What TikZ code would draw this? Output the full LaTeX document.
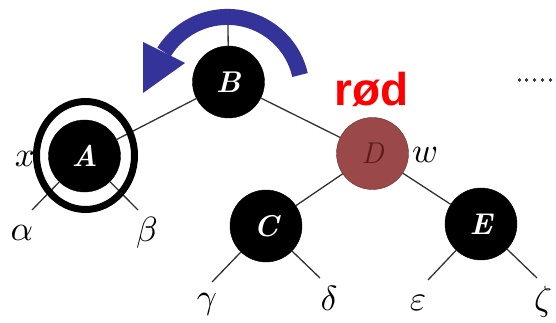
\documentclass[tikz,border=0pt]{standalone}
\usepackage{fontspec}
\usepackage{graphicx}
\newfontfamily\sansb{Liberation Sans}
\definecolor{arrowblue}{RGB}{51,51,153}
\definecolor{redfill}{RGB}{154,72,72}
\definecolor{redtext}{RGB}{95,25,25}
\definecolor{edgegray}{RGB}{50,50,50}
\newcommand{\leafsym}[1]{\scalebox{3.5}{$#1$}}
\tikzset{
  treenode/.style={circle, fill=black, draw=black, minimum size=72pt, inner sep=0pt,
    text=white, font=\fontsize{30}{31}\selectfont\bfseries\itshape},
  rednode/.style={treenode, fill=redfill, draw=redfill!70!black, text=redtext,
    font=\fontsize{30}{31}\selectfont\itshape},
  edge/.style={draw=edgegray, line width=1.3pt},
  leaflabel/.style={anchor=base, inner sep=0pt},
  bluearrow/.style={draw=arrowblue, line width=16pt},
  dotmark/.style={circle, fill=black!80, inner sep=0pt, minimum size=3.6pt}
}
\begin{document}
\begin{tikzpicture}[x=1pt,y=-1pt]
\useasboundingbox (0,0) rectangle (556,323);
% nodes
\node[treenode] (B) at (228.5,82) {B};
\node[treenode] (A) at (84.5,156) {A};
\node[rednode]  (D) at (372.5,153.5) {D};
\node[treenode] (C) at (266,226) {C};
\node[treenode] (E) at (481,224) {E};
% free ends
\coordinate (Btop) at (228,25);
\coordinate (la) at (32,210);
\coordinate (lb) at (138,210);
\coordinate (lg) at (212,282);
\coordinate (ld) at (320,278);
\coordinate (le) at (428,280);
\coordinate (lz) at (537,278);
% edges
\draw[edge] (B) -- (Btop);
\draw[edge] (B) -- (A);
\draw[edge] (B) -- (D);
\draw[edge] (D) -- (C);
\draw[edge] (D) -- (E);
\draw[edge] (A) -- (la);
\draw[edge] (A) -- (lb);
\draw[edge] (C) -- (lg);
\draw[edge] (C) -- (ld);
\draw[edge] (E) -- (le);
\draw[edge] (E) -- (lz);
% leaf labels
\node[leaflabel] (alpha) at (22,240) {\leafsym{\alpha}};
\node[leaflabel] (beta) at (147,241) {\leafsym{\beta}};
\node[leaflabel] (gamma) at (207,308) {\leafsym{\gamma}};
\node[leaflabel] (delta) at (329,310) {\leafsym{\delta}};
\node[leaflabel] (eps) at (418,310) {\leafsym{\varepsilon}};
\node[leaflabel] (zeta) at (543,310) {\leafsym{\zeta}};
\node[leaflabel] (xlab) at (25,167) {\leafsym{x}};
\node[leaflabel] (wlab) at (425,163) {\leafsym{w}};
% ring round A
\draw[black, line width=7pt] (85.5,155.5) ellipse [x radius=49, y radius=54];
% rotation arrow
\draw[bluearrow] (300,75) arc[start angle=-12.8, end angle=-148, radius=74.6];
\fill[arrowblue] (143,42) -- (185,63) -- (143,93) -- cycle;
% red label
\node[anchor=base, inner sep=0pt, text=red, font=\fontsize{46}{48}\selectfont\sansb\bfseries] (rod) at (371.5,106) {rød};
% dots
\foreach \i/\xx in {1/519.5,2/526.5,3/534.5,4/542.5,5/550.5}
  \node[dotmark] (dot\i) at (\xx,80) {};
\end{tikzpicture}
\end{document}
